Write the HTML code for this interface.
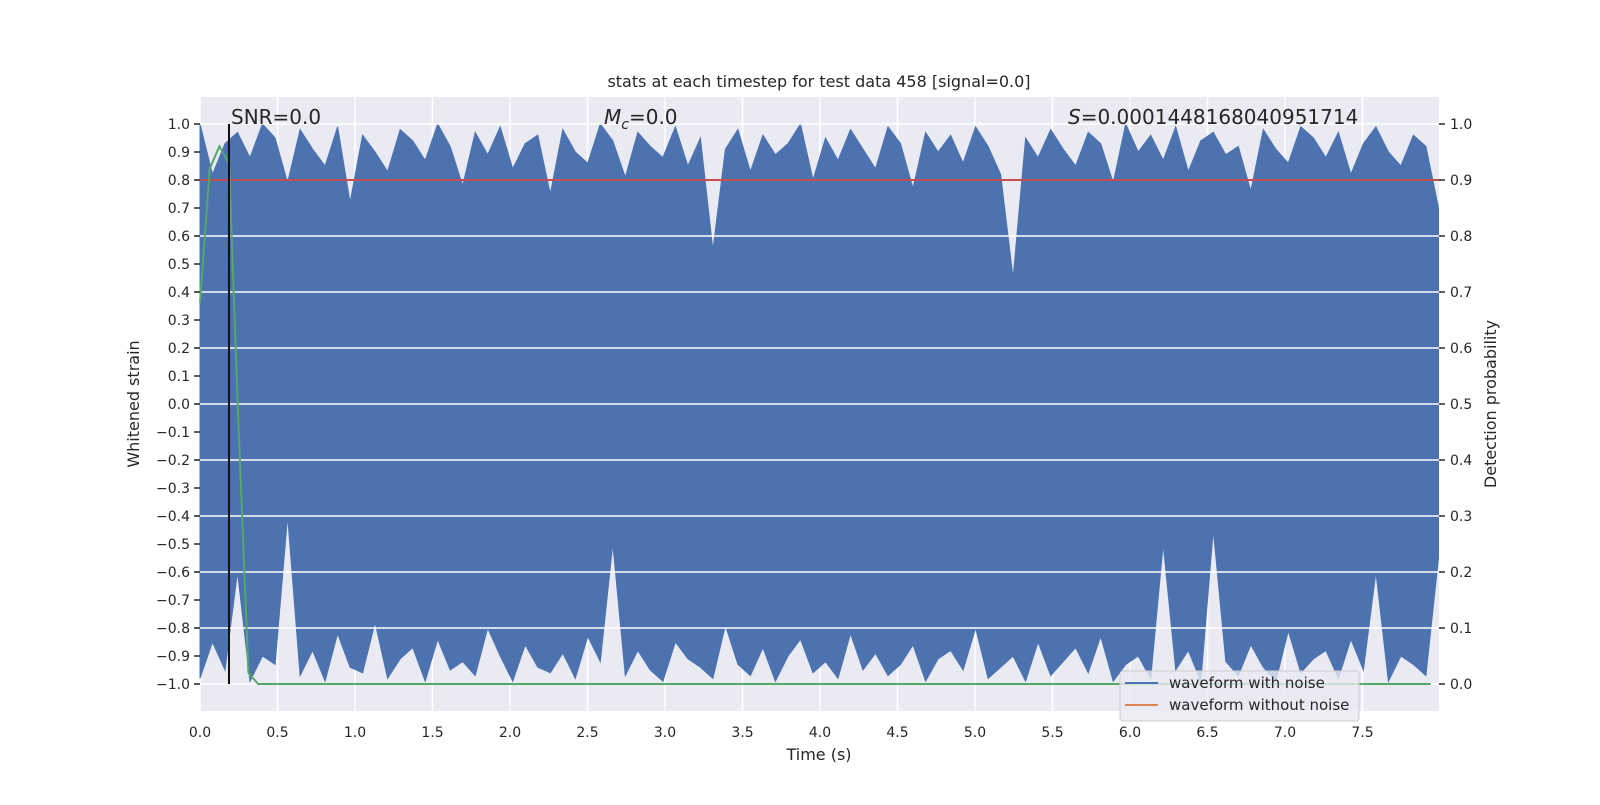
<!DOCTYPE html>
<html><head><meta charset="utf-8"><style>
body{margin:0;background:#fff;}
svg text{font-family:"DejaVu Sans","Liberation Sans",sans-serif;fill:#262626;}
</style></head><body>
<svg id="chart" width="1600" height="800" xmlns="http://www.w3.org/2000/svg">
<rect x="200" y="97" width="1239" height="614" fill="#eaeaf2"/>
<g id="vgrid"></g>
<g id="wave"></g>
<g id="hgrid"></g>
<g id="overlay"></g>
<g id="axes"></g>
<text x="819" y="87" font-size="16" text-anchor="middle">stats at each timestep for test data 458 [signal=0.0]</text>
<text x="231" y="124" font-size="20">SNR=0.0</text>
<text x="604" y="124" font-size="20"><tspan font-style="italic">M</tspan><tspan font-style="italic" font-size="14" dy="5">c</tspan><tspan dy="-5">=0.0</tspan></text>
<text x="1068" y="124" font-size="20"><tspan font-style="italic">S</tspan>=0.0001448168040951714</text>
<text x="819" y="760" font-size="16" text-anchor="middle">Time (s)</text>
<text transform="translate(139,404) rotate(-90)" font-size="16" text-anchor="middle">Whitened strain</text>
<text transform="translate(1496,404) rotate(-90)" font-size="16" text-anchor="middle">Detection probability</text>
<g>
<rect x="1120" y="671" width="239" height="50" rx="3" fill="#eaeaf2" fill-opacity="0.8" stroke="#cccccc"/>
<line x1="1125" y1="683" x2="1158" y2="683" stroke="#4c72b0" stroke-width="2"/>
<text x="1169" y="688" font-size="15">waveform with noise</text>
<line x1="1125" y1="705" x2="1158" y2="705" stroke="#dd8452" stroke-width="2"/>
<text x="1169" y="710" font-size="15">waveform without noise</text>
</g>
</svg>
<script>
const xTicks=[0,0.5,1,1.5,2,2.5,3,3.5,4,4.5,5,5.5,6,6.5,7,7.5];
const yTicks=[1,0.9,0.8,0.7,0.6,0.5,0.4,0.3,0.2,0.1,0,-0.1,-0.2,-0.3,-0.4,-0.5,-0.6,-0.7,-0.8,-0.9,-1];
const pTicks=[0,0.1,0.2,0.3,0.4,0.5,0.6,0.7,0.8,0.9,1];
const upper=[1.0,0.82,0.93,0.97,0.88,1.0,0.95,0.79,0.98,0.91,0.85,0.99,0.72,0.96,0.9,0.83,0.98,0.94,0.87,1.0,0.92,0.78,0.97,0.89,0.99,0.84,0.93,0.96,0.75,0.98,0.9,0.86,1.0,0.94,0.81,0.97,0.92,0.88,0.99,0.85,0.95,0.55,0.91,0.98,0.83,0.96,0.89,0.93,1.0,0.8,0.95,0.87,0.98,0.91,0.84,0.99,0.93,0.77,0.97,0.9,0.96,0.86,0.99,0.92,0.82,0.45,0.95,0.88,0.98,0.91,0.85,0.97,0.93,0.79,1.0,0.9,0.96,0.87,0.99,0.83,0.94,0.97,0.89,0.92,0.76,0.98,0.91,0.86,0.99,0.95,0.88,0.97,0.82,0.93,0.99,0.9,0.85,0.96,0.92,0.7];
const lower=[-0.98,-0.85,-0.95,-0.6,-0.99,-0.9,-0.93,-0.4,-0.97,-0.88,-0.99,-0.82,-0.94,-0.96,-0.78,-0.98,-0.91,-0.87,-0.99,-0.84,-0.95,-0.92,-0.97,-0.8,-0.9,-0.99,-0.86,-0.94,-0.96,-0.89,-0.98,-0.83,-0.92,-0.5,-0.97,-0.88,-0.95,-0.99,-0.85,-0.91,-0.94,-0.98,-0.79,-0.93,-0.97,-0.87,-0.99,-0.9,-0.84,-0.96,-0.92,-0.98,-0.82,-0.95,-0.89,-0.97,-0.93,-0.86,-0.99,-0.91,-0.88,-0.95,-0.8,-0.98,-0.94,-0.9,-0.99,-0.85,-0.97,-0.92,-0.87,-0.96,-0.83,-0.99,-0.93,-0.9,-0.98,-0.5,-0.95,-0.88,-0.99,-0.45,-0.92,-0.97,-0.86,-0.94,-0.99,-0.81,-0.96,-0.91,-0.88,-0.98,-0.84,-0.95,-0.6,-0.99,-0.9,-0.93,-0.97,-0.55];
const probTimes=[0,0.0625,0.125,0.1875,0.25,0.3125,0.375,7.94];
const probValues=[0.68,0.92,0.96,0.93,0.45,0.02,0,0];
const threshold=0.9;
const markerTime=0.187;

const NS='http://www.w3.org/2000/svg';
const X=t=>200+t*155;
const Y=v=>404-v*280;
const P=p=>684-p*560;
function mk(tag,attrs,parent){const e=document.createElementNS(NS,tag);for(const k in attrs)e.setAttribute(k,attrs[k]);document.getElementById(parent).appendChild(e);return e;}

xTicks.forEach(t=>{
  const l=mk('line',{x1:X(t),x2:X(t),y1:97,y2:711,stroke:'#fff','stroke-width':1.5},'vgrid');
  
  
  const tk=mk('text',{x:X(t),y:737,'font-size':14,'text-anchor':'middle'},'axes');
  tk.textContent=t.toFixed(1);
  
  
});
const step=7.99/(upper.length-1);
const topPts=upper.map((u,i)=>X(i*step).toFixed(1)+','+Y(u).toFixed(1));
const botPts=lower.map((lo,i)=>X(i*step).toFixed(1)+','+Y(lo).toFixed(1)).reverse();
const wv=mk('polygon',{points:topPts.concat(botPts).join(' '),fill:'#4c72b0',stroke:'#4c72b0','stroke-width':1},'wave');


pTicks.forEach(p=>{
  const l=mk('line',{x1:200,x2:1439,y1:P(p),y2:P(p),stroke:'#fff','stroke-width':1.5},'hgrid');
  
  
  mk('line',{x1:1439,x2:1445,y1:P(p),y2:P(p),stroke:'#262626','stroke-width':1.5},'axes');
  const tk=mk('text',{x:1450,y:P(p)+5,'font-size':14},'axes');
  tk.textContent=p.toFixed(1);
  
  
});
yTicks.forEach(v=>{
  mk('line',{x1:194,x2:200,y1:Y(v),y2:Y(v),stroke:'#262626','stroke-width':1.5},'axes');
  const tk=mk('text',{x:190,y:Y(v)+5,'font-size':14,'text-anchor':'end'},'axes');
  tk.textContent=(v<0?'\u2212':'')+Math.abs(v).toFixed(1);
  
  
});
const th=mk('line',{x1:200,x2:1439,y1:P(threshold),y2:P(threshold),stroke:'#c44e52','stroke-width':2},'overlay');


const pl=mk('polyline',{points:probTimes.map((t,i)=>X(t)+','+P(probValues[i])).join(' '),fill:'none',stroke:'#55a868','stroke-width':2},'overlay');


const mv=mk('line',{x1:X(markerTime),x2:X(markerTime),y1:Y(1),y2:Y(-1),stroke:'#111','stroke-width':2},'overlay');


</script>
</body></html>
